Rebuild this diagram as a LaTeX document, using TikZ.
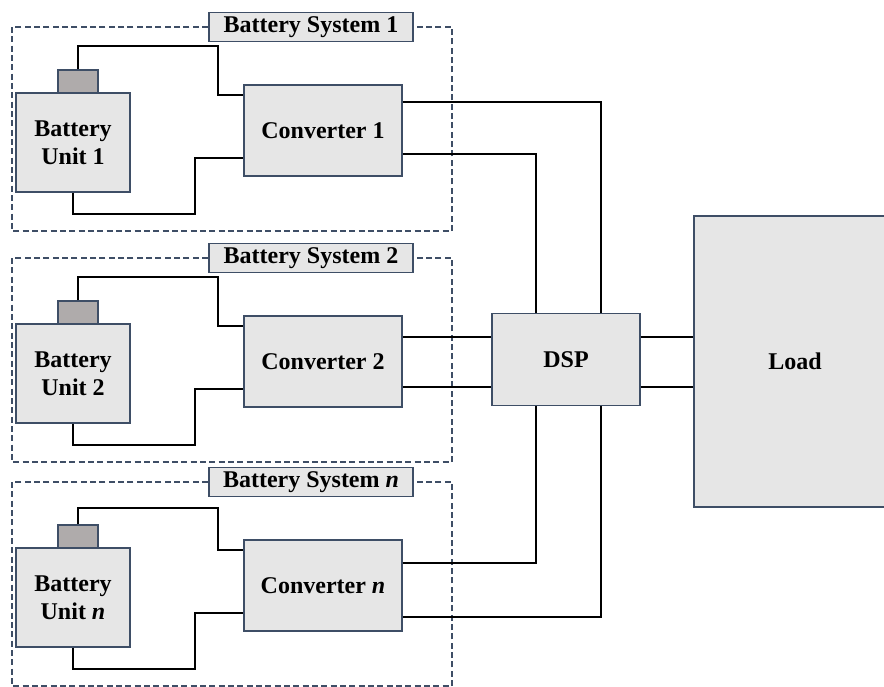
\documentclass[tikz,border=0pt]{standalone}
\usepackage{fontspec}
\setmainfont{Liberation Serif}
\usetikzlibrary{calc}

\definecolor{boxfill}{HTML}{E6E6E6}
\definecolor{boxline}{HTML}{3E4E66}
\definecolor{capfill}{HTML}{AFABAB}

\begin{document}
\begin{tikzpicture}[x=0.75pt, y=-0.75pt,
    block/.style={draw=boxline, line width=0.9pt, fill=boxfill, align=center, inner sep=0pt,
      font=\fontsize{18}{21}\selectfont\bfseries},
    cellcap/.style={draw=boxline, line width=0.9pt, fill=capfill, minimum width=30pt,
      minimum height=17.25pt, inner sep=0pt},
    systag/.style={block, minimum width=153pt, minimum height=21.75pt},
    sysframe/.style={draw=boxline, line width=0.9pt, dash pattern=on 4.5pt off 2.5pt},
    wire/.style={line width=1.5pt, black}]

  \useasboundingbox (0,0) rectangle (884,686);

  % the three battery systems
  \foreach \i/\dy/\up/\num in {1/0/23/1, 2/231/23/2, n/455/16/\textit{n}} {
    \draw[sysframe] (12,27+\dy) rectangle (452,231+\dy);
    \node[systag] (tag\i) at (311,27+\dy) {Battery System \num};
    \node[block, minimum width=85.5pt, minimum height=74.25pt] (bu\i) at (73,142.5+\dy) {Battery\\Unit \num};
    \node[cellcap] (cap\i) at (78,81.5+\dy) {};
    \node[block, minimum width=118.5pt, minimum height=68.25pt] (cv\i) at (323,130.5+\dy) {Converter \num};

    \draw[wire] (cap\i.north) |- ++(140,-\up) |- ($(cv\i.north west)+(0,11)$);
    \draw[wire] (bu\i.south) |- ++(122,21) |- ($(cv\i.south west)+(0,-19)$);
  }

  \node[block, minimum width=111pt, minimum height=69pt] (dsp) at (566,359.5) {DSP};
  \node[block, minimum width=151.5pt, minimum height=218.25pt] (load) at (795,361.5) {Load};

  % converters to DSP, DSP to load
  \draw[wire] ($(cv1.north east)+(0,18)$) -| ($(dsp.north west)+(110,0)$);
  \draw[wire] ($(cv1.north east)+(0,70)$) -| ($(dsp.north west)+(45,0)$);

  \coordinate (a2) at ($(cv2.north east)+(0,22)$);
  \coordinate (b2) at ($(cv2.north east)+(0,72)$);
  \draw[wire] (a2) -- (a2 -| dsp.west);
  \draw[wire] (b2) -- (b2 -| dsp.west);
  \draw[wire] (a2 -| dsp.east) -- (a2 -| load.west);
  \draw[wire] (b2 -| dsp.east) -- (b2 -| load.west);

  \draw[wire] ($(cvn.north east)+(0,24)$) -| ($(dsp.south west)+(45,0)$);
  \draw[wire] ($(cvn.north east)+(0,78)$) -| ($(dsp.south west)+(110,0)$);

\end{tikzpicture}
\end{document}
